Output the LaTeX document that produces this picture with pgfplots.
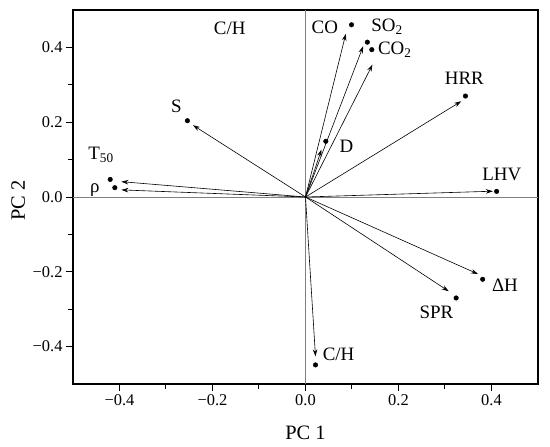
\documentclass[border=0pt]{standalone}
\usepackage{pgfplots}
\pgfplotsset{compat=1.18}
\usepackage{fontspec}
\setmainfont{Liberation Serif}
\usetikzlibrary{arrows.meta}
\tikzset{lbl/.style={font=\fontsize{19}{21}\selectfont, anchor=base, inner sep=0pt},
  arr/.style={black, line width=0.6bp, -{Stealth[length=7bp,width=4.5bp]}}}
\begin{document}
\begin{tikzpicture}
\path[use as bounding box] (-73bp,-63bp) rectangle (477bp,384bp);
\begin{axis}[
  scale only axis,
  width=465bp, height=374bp,
  xmin=-0.5, xmax=0.5, ymin=-0.5, ymax=0.5,
  axis line style={line width=1.2bp},
  xtick={-0.4,-0.2,0,0.2,0.4},
  xticklabels={−0.4,−0.2,0.0,0.2,0.4},
  ytick={-0.4,-0.2,0,0.2,0.4},
  yticklabels={−0.4,−0.2,0.0,0.2,0.4},
  minor tick num=1,
  tick align=outside,
  xtick pos=bottom, ytick pos=left,
  major tick length=7bp, minor tick length=4.5bp,
  tick style={line width=1bp, black},
  ticklabel style={font=\fontsize{16.5}{18}\selectfont},
  xlabel={PC 1}, ylabel={PC 2},
  label style={font=\fontsize{20.5}{22}\selectfont},
  xlabel style={at={(axis description cs:0.5,-0.13)}, anchor=center},
  ylabel style={at={(axis description cs:-0.118,0.49)}, anchor=center},
  clip=false,
]
\addplot[gray, line width=0.6bp] coordinates {(0,-0.5) (0,0.5)};
\addplot[gray, line width=0.6bp] coordinates {(-0.5,0) (0.5,0)};
\addplot[arr] coordinates {(0,0) (0.0867,0.4365)};
\addplot[arr] coordinates {(0,0) (0.124,0.403)};
\addplot[arr] coordinates {(0,0) (0.144,0.354)};
\addplot[arr] coordinates {(0,0) (0.335,0.256)};
\addplot[arr] coordinates {(0,0) (0.0344,0.127)};
\addplot[arr] coordinates {(0,0) (0.403,0.0155)};
\addplot[arr] coordinates {(0,0) (-0.242,0.192)};
\addplot[arr] coordinates {(0,0) (-0.396,0.041)};
\addplot[arr] coordinates {(0,0) (-0.396,0.019)};
\addplot[arr] coordinates {(0,0) (0.371,-0.206)};
\addplot[arr] coordinates {(0,0) (0.308,-0.252)};
\addplot[arr] coordinates {(0,0) (0.0215,-0.426)};
\addplot[only marks, mark=*, mark size=2.3bp, black] coordinates {
(0.099,0.4605) (0.133,0.414) (0.1426,0.394) (0.344,0.270) (0.0437,0.149)
(0.411,0.015) (-0.254,0.204) (-0.420,0.047) (-0.410,0.025)
(0.381,-0.220) (0.324,-0.270) (0.0215,-0.449)
};
\node[lbl] at (axis cs:-0.163,0.434) {C/H};
\node[lbl] at (axis cs:0.0415,0.4365) {CO};
\node[lbl] at (axis cs:0.1755,0.4427) {SO\textsubscript{2}};
\node[lbl] at (axis cs:0.192,0.3805) {CO\textsubscript{2}};
\node[lbl] at (axis cs:0.3415,0.302) {HRR};
\node[lbl] at (axis cs:0.088,0.12) {D};
\node[lbl] at (axis cs:0.422,0.0453) {LHV};
\node[lbl] at (axis cs:-0.2774,0.2267) {S};
\node[lbl] at (axis cs:-0.4396,0.1005) {T\textsubscript{50}};
\node[lbl] at (axis cs:-0.453,0.0125) {ρ};
\node[lbl] at (axis cs:0.429,-0.2533) {ΔH};
\node[lbl] at (axis cs:0.2817,-0.326) {SPR};
\node[lbl] at (axis cs:0.0712,-0.437) {C/H};
\end{axis}
\end{tikzpicture}
\end{document}
